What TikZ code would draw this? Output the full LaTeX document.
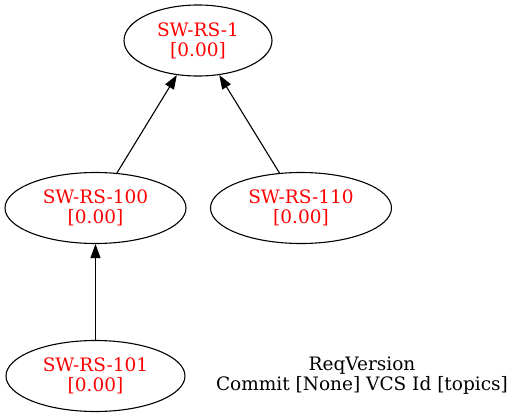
\documentclass[tikz,border=0pt]{standalone}
\usepackage{fontspec}
\setmainfont{DejaVu Serif}
\usetikzlibrary{shapes.geometric,arrows.meta}
\begin{document}
\begin{tikzpicture}[x=1pt,y=-1pt,
  req/.style={ellipse, draw, line width=1.1pt, inner sep=0pt, minimum height=71pt,
    text=red, align=center, font=\fontsize{18.5pt}{20pt}\selectfont},
  dep/.style={draw, line width=1.1pt, -{Triangle[length=14pt,width=10pt]}},
  plain/.style={align=center, font=\fontsize{18.5pt}{20pt}\selectfont}]
\useasboundingbox (0,0) rectangle (531,418);
\node[req, minimum width=148pt] (n1) at (198,40.5) {SW-RS-1\\{[0.00]}};
\node[req, minimum width=181pt] (n100) at (95.5,208) {SW-RS-100\\{[0.00]}};
\node[req, minimum width=181pt] (n110) at (301,208) {SW-RS-110\\{[0.00]}};
\node[req, minimum width=179pt] (n101) at (95.5,376) {SW-RS-101\\{[0.00]}};
\node[plain] (info) at (362,376) {ReqVersion\\Commit [None] VCS Id [topics]};
\draw[dep] (n100) -- (n1);
\draw[dep] (n110) -- (n1);
\draw[dep] (n101) -- (n100);
\end{tikzpicture}
\end{document}
